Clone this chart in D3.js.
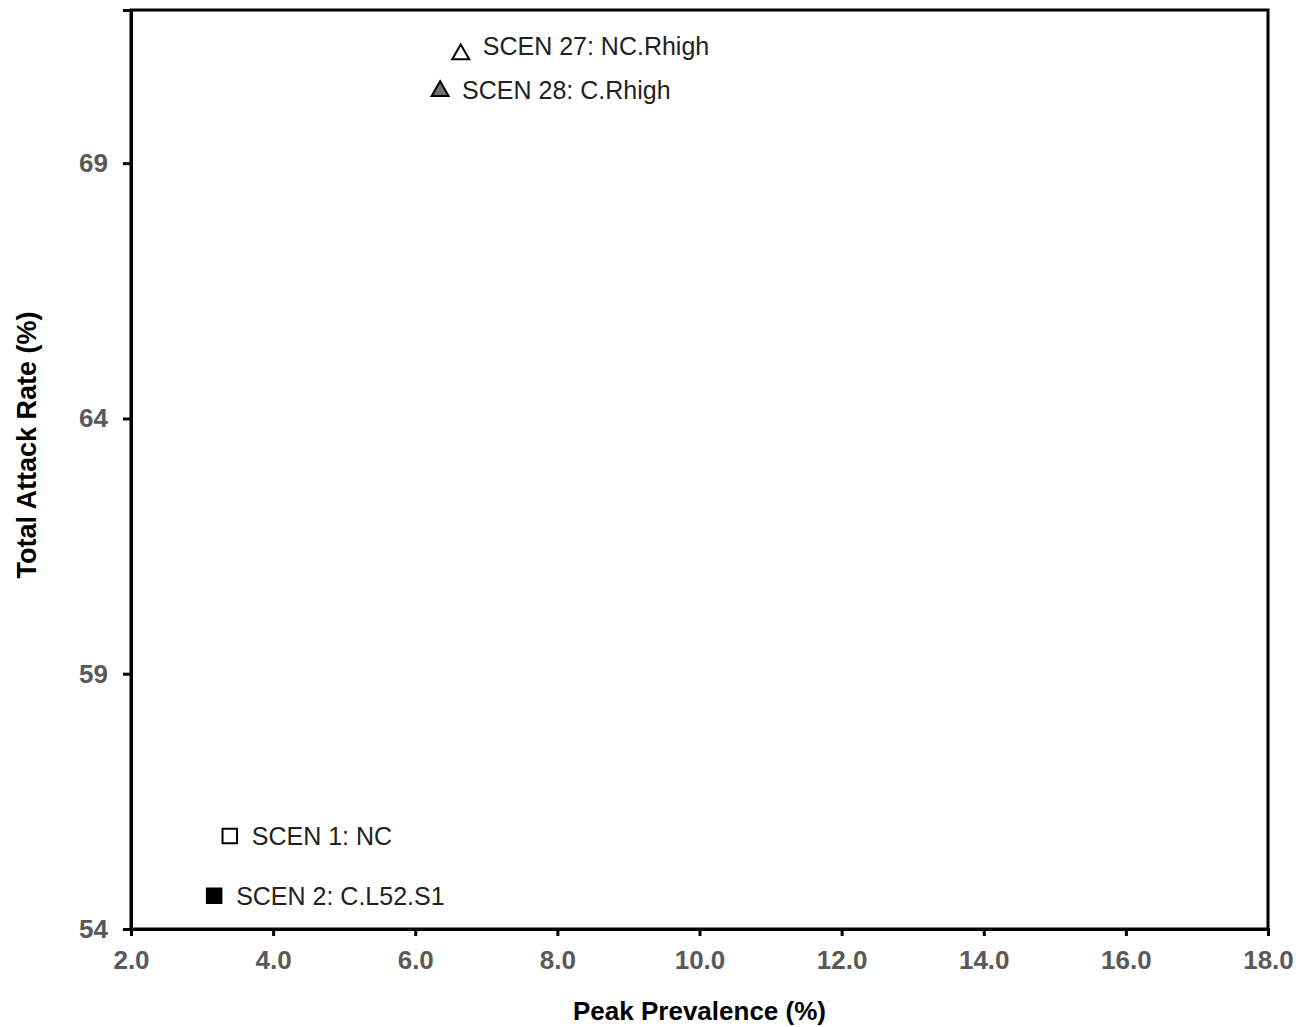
<!DOCTYPE html>
<html>
<head>
<meta charset="utf-8">
<script src="https://cdn.jsdelivr.net/npm/d3@7"></script>
<style>
  html, body { margin: 0; padding: 0; background: #fff; }
  svg { display: block; font-family: Arial, "Liberation Sans", sans-serif; }
</style>
</head>
<body>
<svg id="chart" width="1308" height="1027"></svg>
<script>
// Scenario results: peak prevalence vs total attack rate
const scenarios = ["SCEN 27: NC.Rhigh", "SCEN 28: C.Rhigh", "SCEN 1: NC", "SCEN 2: C.L52.S1"];
const peakPrevalence = [6.64, 6.35, 3.39, 3.17];
const attackRate = [71.15, 70.43, 55.82, 54.65];
const markerShape = ["triangle", "triangle", "square", "square"];
const markerFill = ["#ffffff", "#6e6e6e", "#ffffff", "#000000"];

const xTicks = [2, 4, 6, 8, 10, 12, 14, 16, 18];
const yTicks = [54, 59, 64, 69];

// label nudges so the top label sits a little above its marker
const labelShift = { "SCEN 27: NC.Rhigh": -7 };

const margin = { left: 131, top: 10, right: 1308 - 1268, bottom: 1027 - 929 };
const width = 1308, height = 1027;
const svg = d3.select("#chart");

const x = d3.scaleLinear().domain([2, 18]).range([margin.left, width - margin.right]);
const y = d3.scaleLinear().domain([54, 72]).range([height - margin.bottom, margin.top]);

// frame
svg.append("rect")
  .attr("x", x(2)).attr("y", y(72))
  .attr("width", x(18) - x(2)).attr("height", y(54) - y(72))
  .attr("fill", "none").attr("stroke", "#000").attr("stroke-width", 3);

const xAxis = svg.append("g")
  .attr("transform", `translate(0,${y(54)})`)
  .call(d3.axisBottom(x).tickValues(xTicks).tickFormat(d3.format(".1f")).tickSize(7).tickPadding(15));
const yAxis = svg.append("g")
  .attr("transform", `translate(${x(2)},0)`)
  .call(d3.axisLeft(y).tickValues(yTicks).tickFormat(d3.format("d")).tickSize(8).tickPadding(15));

[xAxis, yAxis].forEach(g => {
  g.select(".domain").attr("stroke", "#000").attr("stroke-width", 3);
  g.selectAll(".tick line").attr("stroke", "#000").attr("stroke-width", 3);
  g.selectAll(".tick text")
    .attr("fill", "#595959")
    .style("font-size", "26px")
    .style("font-weight", "bold")
    .style("font-family", "Arial, 'Liberation Sans', sans-serif");
});

// axis titles
svg.append("text")
  .attr("x", (x(2) + x(18)) / 2).attr("y", 1020)
  .attr("text-anchor", "middle")
  .style("font-size", "26px").style("font-weight", "bold").attr("fill", "#000")
  .text("Peak Prevalence (%)");
svg.append("text")
  .attr("transform", `translate(36,445) rotate(-90)`)
  .attr("text-anchor", "middle")
  .style("font-size", "27px").style("font-weight", "bold").attr("fill", "#000")
  .text("Total Attack Rate (%)");

// points and labels
const data = scenarios.map((s, i) => ({
  name: s, px: peakPrevalence[i], ar: attackRate[i], shape: markerShape[i], fill: markerFill[i]
}));

const sym = {
  triangle: d3.symbol().type(d3.symbolTriangle).size(125),
  square: d3.symbol().type(d3.symbolSquare).size(210)
};

const pts = svg.append("g").selectAll("g").data(data).join("g")
  .attr("transform", d => `translate(${x(d.px)},${y(d.ar)})`);

pts.append("path")
  .attr("d", d => sym[d.shape]())
  .attr("transform", d => d.shape === "triangle" ? "translate(0,1)" : null)
  .attr("fill", d => d.fill)
  .attr("stroke", "#000")
  .attr("stroke-width", 2);

pts.append("text")
  .attr("x", 22).attr("y", d => 9 + (labelShift[d.name] || 0))
  .style("font-size", "25px").attr("fill", "#222")
  .text(d => d.name);
</script>
</body>
</html>
